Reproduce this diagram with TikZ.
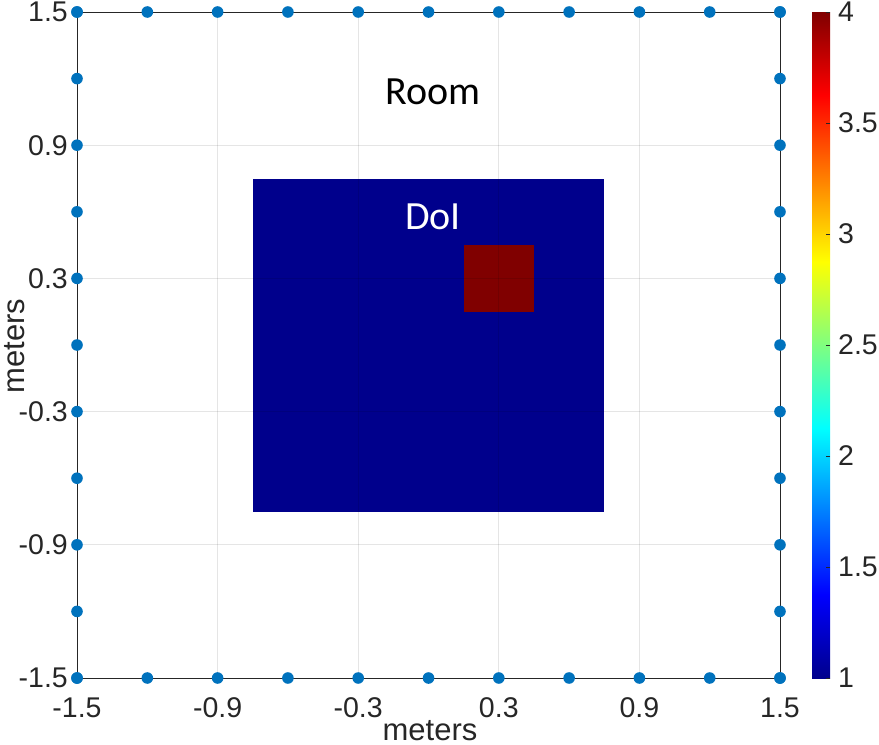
\documentclass[tikz,border=0pt]{standalone}
\usepackage{fontspec}
\setmainfont{Liberation Sans}
\newfontfamily\calibrifont{Carlito}
\definecolor{jdb}{rgb}{0,0,0.55}
\definecolor{jdr}{rgb}{0.5,0,0}
\definecolor{doiblue}{RGB}{0,0,140}
\definecolor{objred}{RGB}{128,0,0}
\definecolor{dotc}{RGB}{0,114,189}
\definecolor{axc}{RGB}{38,38,38}
\pgfdeclareverticalshading{jet}{100bp}{color(0bp)=(jdb); color(25bp)=(jdb); color(31.25bp)=(blue); color(43.75bp)=(cyan); color(56.25bp)=(yellow); color(68.75bp)=(red); color(75bp)=(jdr); color(100bp)=(jdr)}
\begin{document}
\begin{tikzpicture}[x=1pt,y=-1pt,
  ticklab/.style={font=\fontsize{28.5}{28.5}\selectfont, text=axc, inner sep=0pt},
  axlab/.style={font=\fontsize{31}{31}\selectfont, text=axc, inner sep=0pt},
  anno/.style={font=\calibrifont\fontsize{40}{40}\selectfont, inner sep=0pt},
  gridline/.style={black, opacity=0.1, line width=0.8pt},
  sensor/.style={fill=dotc}]
\useasboundingbox (0,0) rectangle (879,745);
\begin{scope}[shift={(428.5,345)},x=234.33pt,y=222pt]
  % domain of interest and object
  \fill[doiblue] (-0.75,-0.75) rectangle (0.75,0.75);
  \fill[objred] (0.15,0.15) rectangle (0.45,0.45);
  % grid
  \foreach \v in {-0.9,-0.3,0.3,0.9} {
    \draw[gridline] (\v,-1.5) -- (\v,1.5);
    \draw[gridline] (-1.5,\v) -- (1.5,\v);
  }
  % axes box
  \draw[axc, line width=0.9pt] (-1.5,-1.5) rectangle (1.5,1.5);
  % sensors
  \foreach \i in {0,...,10} {
    \pgfmathsetmacro\v{-1.5+0.3*\i}
    \fill[sensor] (\v,-1.5) circle[radius=5.8pt];
    \fill[sensor] (\v,1.5) circle[radius=5.8pt];
    \fill[sensor] (-1.5,\v) circle[radius=5.8pt];
    \fill[sensor] (1.5,\v) circle[radius=5.8pt];
  }
  % tick labels
  \foreach \v/\t in {-1.5/-1.5,-0.9/-0.9,-0.3/-0.3,0.3/0.3,0.9/0.9,1.5/1.5} {
    \node[ticklab, anchor=base] (xt\t) at (\v,-1.5) [yshift=-39pt] {\t};
    \node[ticklab, anchor=east] (yt\t) at (-1.5,\v) [xshift=-9pt] {\t};
  }
  % annotations
  \node[anno, anchor=base] (room) at (0.02,1.085) {Room};
  \node[anno, anchor=base, text=white] (doi) at (0.02,0.52) {DoI};
\end{scope}
% axis labels
\node[axlab, anchor=base] (xlabel) at (430,740) {meters};
\node[axlab, anchor=base, rotate=90] (ylabel) at (24,346) {meters};
% colorbar
\shade[shading=jet] (812,12) rectangle (830,678);
\foreach \v in {1,1.5,2,2.5,3,3.5,4} {
  \pgfmathsetmacro\yy{678-(\v-1)/3*666}
  \draw[axc, line width=0.6pt] (830,\yy) -- (826,\yy);
  \node[ticklab, anchor=west] (cb\v) at (838,\yy) {\v};
}
\end{tikzpicture}
\end{document}
